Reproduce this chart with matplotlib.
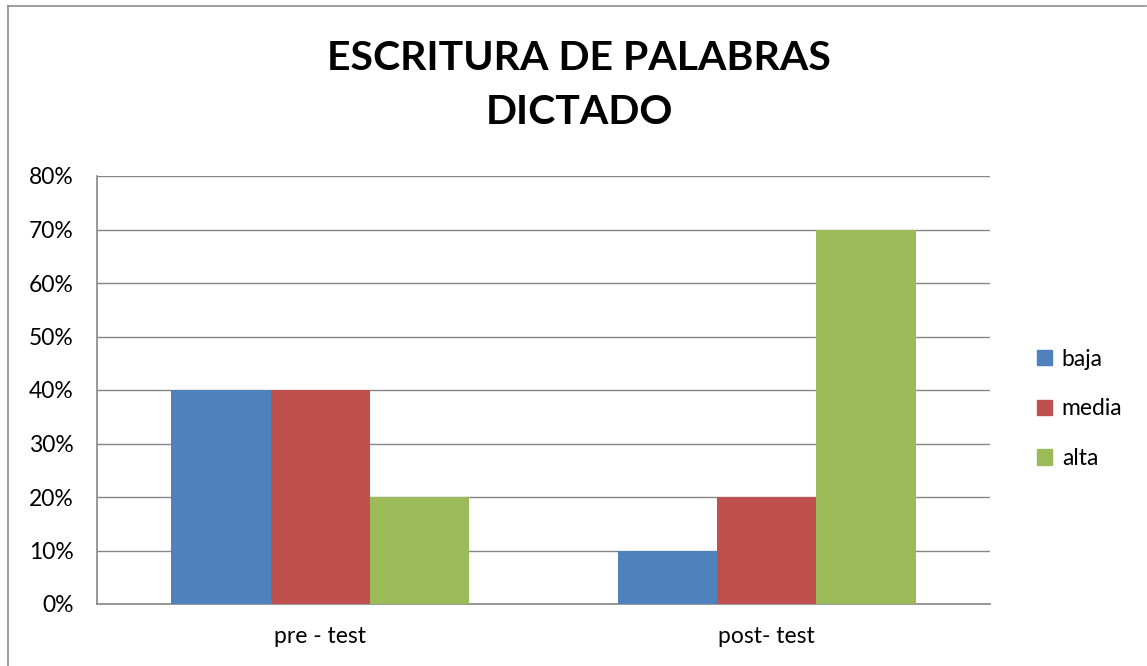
import matplotlib.pyplot as plt
import numpy as np
from matplotlib.lines import Line2D

categories = ["pre - test", "post- test"]
series_names = ["baja", "media", "alta"]
baja = [0.40, 0.10]
media = [0.40, 0.20]
alta = [0.20, 0.70]
colors = ["#4F81BD", "#C0504D", "#9BBB59"]
yticks = [0, 0.1, 0.2, 0.3, 0.4, 0.5, 0.6, 0.7, 0.8]
ytick_labels = ["0%", "10%", "20%", "30%", "40%", "50%", "60%", "70%", "80%"]

plt.rcParams['font.family'] = ['Lato', 'DejaVu Sans']

W, H = 1147, 666
fig = plt.figure(figsize=(W / 100, H / 100), dpi=100)
ax = fig.add_axes([97 / W, 1 - 604 / H, (990 - 97) / W, (604 - 176) / H])

x = np.arange(len(categories))
bw = 1 / 4.5
for i, (vals, c, name) in enumerate(zip([baja, media, alta], colors, series_names)):
    ax.bar(x + (i - 1) * bw, vals, width=bw, color=c, label=name, zorder=3)

ax.set_xlim(-0.5, 1.5)
ax.set_ylim(0, 0.8)
ax.set_yticks(yticks)
ax.set_yticklabels(ytick_labels, fontsize=16.5)
ax.set_xticks(x)
ax.set_xticklabels(categories, fontsize=16.5)
ax.tick_params(axis='y', length=0, pad=17)
ax.tick_params(axis='x', length=0, pad=16)
ax.grid(axis='y', color='#868686', linewidth=1, zorder=0)
for s in ['top', 'right']:
    ax.spines[s].set_visible(False)
for s in ['left', 'bottom']:
    ax.spines[s].set_color('#868686')
    ax.spines[s].set_linewidth(1.2)

handles = [plt.Rectangle((0, 0), 1, 1, color=c) for c in colors]
fig.legend(handles, series_names, loc='center left', bbox_to_anchor=(1016 / W, 1 - 409 / H),
           frameon=False, fontsize=16.5, handlelength=0.65, handleheight=0.65,
           labelspacing=1.25, handletextpad=0.45)

fig.text(579 / W, 1 - 58 / H, "ESCRITURA DE PALABRAS", ha='center', va='center',
         fontsize=29.5, fontweight='bold')
fig.text(579 / W, 1 - 113 / H, "DICTADO", ha='center', va='center',
         fontsize=29.5, fontweight='bold')

# chart border
fig.add_artist(Line2D([8 / W, 8 / W], [0, 1 - 6 / H], color='#8c8c8c', linewidth=1.2))
fig.add_artist(Line2D([8 / W, 1146 / W], [1 - 6 / H, 1 - 6 / H], color='#8c8c8c', linewidth=1.2))

fig.savefig("out.png", dpi=100)
